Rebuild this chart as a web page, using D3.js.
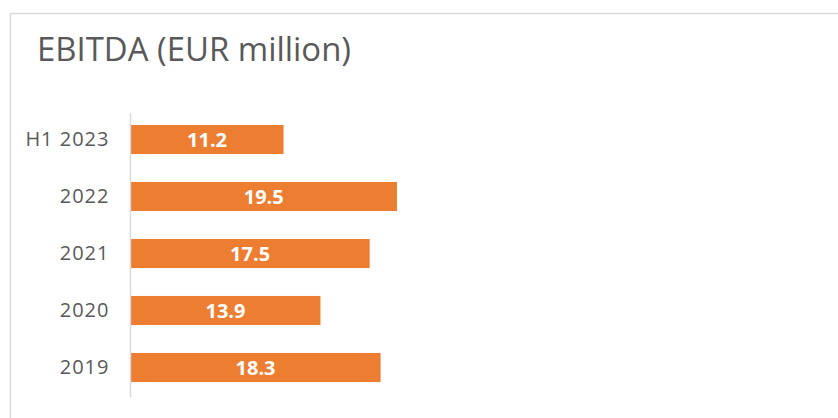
<!DOCTYPE html>
<html><head><meta charset="utf-8">
<script src="https://cdn.jsdelivr.net/npm/d3@7"></script>
<style>body{margin:0;background:#fff}svg{display:block}</style>
</head><body>
<svg id="c" width="838" height="418"></svg>
<script>
const categories = ["H1 2023", "2022", "2021", "2020", "2019"];
const values = [11.2, 19.5, 17.5, 13.9, 18.3];
const title = "EBITDA (EUR million)";

const svg = d3.select("#c");
svg.append("rect").attr("x", 10.5).attr("y", 13.5).attr("width", 900).attr("height", 500)
  .attr("fill", "#fff").attr("stroke", "#D9D9D9").attr("stroke-width", 1.5);

svg.append("text").attr("x", 37).attr("y", 61).text(title)
  .attr("font-family", "Open Sans").attr("font-size", 33).attr("fill", "#595959")
  .attr("textLength", 314).attr("lengthAdjust", "spacingAndGlyphs");

const x = d3.scaleLinear().domain([0, 19.5]).range([130.5, 397]);
const y = d3.scaleBand().domain(categories).range([111, 396]).paddingInner(0.49).paddingOuter(0.245);

svg.selectAll("rect.bar").data(values).join("rect").attr("class", "bar")
  .attr("x", x(0)).attr("y", (d, i) => y(categories[i]))
  .attr("width", d => x(d) - x(0)).attr("height", y.bandwidth())
  .attr("fill", "#ED7D31");

svg.selectAll("text.val").data(values).join("text").attr("class", "val")
  .attr("x", d => (x(0) + x(d)) / 2).attr("y", (d, i) => y(categories[i]) + y.bandwidth() / 2)
  .attr("dy", "0.37em").attr("text-anchor", "middle")
  .attr("font-family", "Open Sans").attr("font-weight", "bold").attr("font-size", 20)
  .attr("fill", "#fff").text(d => d.toFixed(1));

const axis = d3.axisLeft(y).tickSize(0).tickPadding(21);
const g = svg.append("g").attr("transform", `translate(${x(0)},0)`).call(axis);
g.select(".domain").remove();
g.selectAll("text").attr("font-family", "Open Sans").attr("font-size", 20).attr("fill", "#595959")
  .attr("letter-spacing", 1);
svg.append("line").attr("x1", x(0)).attr("x2", x(0)).attr("y1", 113).attr("y2", 397)
  .attr("stroke", "#D9D9D9").attr("stroke-width", 1.5);
</script>
</body></html>
